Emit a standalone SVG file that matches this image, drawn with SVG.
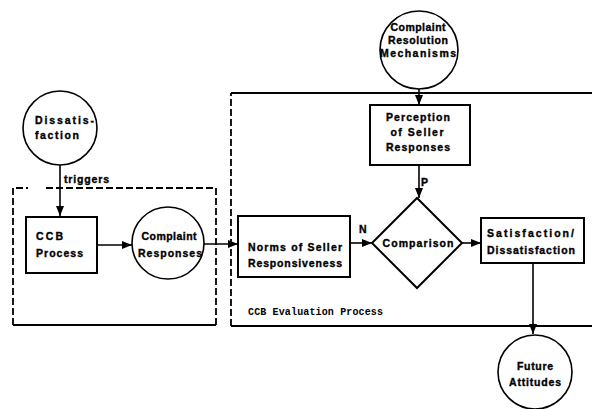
<svg xmlns="http://www.w3.org/2000/svg" width="592" height="409" viewBox="0 0 592 409">
<style>
.n{fill:#fff;stroke:#000;stroke-width:2}
.c{fill:#fff;stroke:#000;stroke-width:1.6}
.t{font-family:"Liberation Sans",Arial,sans-serif;font-weight:bold;font-size:10.5px;fill:#000;stroke:#000;stroke-width:0.35}
.m{font-family:"Liberation Mono","Courier New",monospace;font-weight:bold;font-size:10px;fill:#000}
.e{stroke:#000;stroke-width:1.6;fill:none}
.d{stroke:#000;stroke-width:1.8;fill:none;stroke-dasharray:7 3}
.s{stroke:#000;stroke-width:2;fill:none}
</style>
<defs>
<marker id="a" viewBox="0 0 10 8" refX="10" refY="4" markerWidth="10" markerHeight="8" markerUnits="userSpaceOnUse" orient="auto">
<path d="M0,0L10,4L0,8z" fill="#000"/>
</marker>
</defs>
<rect width="592" height="409" fill="#fff"/>
<g id="frames">
<path class="d" d="M13,325V188H28"/>
<path class="d" d="M46,188H216V325"/>
<path class="s" d="M13,325H216"/>
<path class="d" d="M231,326V93"/>
<path class="s" d="M231,93H592"/>
<path class="s" d="M231,326H592"/>
<text class="m" x="248" y="315" textLength="135" lengthAdjust="spacing">CCB Evaluation Process</text>
</g>
<g id="connectors">
<path class="e" d="M60,165V216" marker-end="url(#a)"/>
<text class="t" x="64" y="183" textLength="45" lengthAdjust="spacing">triggers</text>
<path class="e" d="M97,245H132" marker-end="url(#a)"/>
<path class="e" d="M204,244H238" marker-end="url(#a)"/>
<path class="e" d="M419,89V105" marker-end="url(#a)"/>
<path class="e" d="M419,165V198" marker-end="url(#a)"/>
<text class="t" x="421" y="186">P</text>
<path class="e" d="M350,243H372" marker-end="url(#a)"/>
<text class="t" x="359" y="233">N</text>
<path class="e" d="M462,243H481" marker-end="url(#a)"/>
<path class="e" d="M533,263V334" marker-end="url(#a)"/>
</g>
<g id="dissatisfaction">
<circle class="c" cx="60" cy="128" r="37"/>
<text class="t" x="35" y="124" textLength="59" lengthAdjust="spacing">Dissatis-</text>
<text class="t" x="35" y="139" textLength="44" lengthAdjust="spacing">faction</text>
</g>
<g id="ccb-process">
<rect class="n" x="26" y="217" width="71" height="56"/>
<text class="t" x="36" y="240" textLength="27" lengthAdjust="spacing">CCB</text>
<text class="t" x="36" y="257" textLength="47" lengthAdjust="spacing">Process</text>
</g>
<g id="complaint-responses">
<circle class="c" cx="168" cy="243" r="36"/>
<text class="t" x="169" y="240" text-anchor="middle" textLength="55" lengthAdjust="spacing">Complaint</text>
<text class="t" x="170" y="257" text-anchor="middle" textLength="64" lengthAdjust="spacing">Responses</text>
</g>
<g id="complaint-resolution">
<circle class="c" cx="419" cy="50" r="39"/>
<text class="t" x="418" y="31" text-anchor="middle" textLength="55" lengthAdjust="spacing">Complaint</text>
<text class="t" x="418" y="44" text-anchor="middle" textLength="60" lengthAdjust="spacing">Resolution</text>
<text class="t" x="418" y="57" text-anchor="middle" textLength="76" lengthAdjust="spacing">Mechanisms</text>
</g>
<g id="perception">
<rect class="n" x="370" y="105" width="100" height="60"/>
<text class="t" x="418" y="121" text-anchor="middle" textLength="64" lengthAdjust="spacing">Perception</text>
<text class="t" x="417" y="136" text-anchor="middle" textLength="53" lengthAdjust="spacing">of Seller</text>
<text class="t" x="418" y="151" text-anchor="middle" textLength="64" lengthAdjust="spacing">Responses</text>
</g>
<g id="norms">
<rect class="n" x="238" y="216" width="112" height="61"/>
<text class="t" x="248" y="251" textLength="94" lengthAdjust="spacing">Norms of Seller</text>
<text class="t" x="248" y="267" textLength="94" lengthAdjust="spacing">Responsiveness</text>
</g>
<g id="comparison">
<path class="n" d="M417,198L462,243L417,288L372,243z"/>
<text class="t" x="418" y="247" text-anchor="middle" textLength="71" lengthAdjust="spacing">Comparison</text>
</g>
<g id="satisfaction">
<rect class="n" x="481" y="218" width="103" height="45"/>
<text class="t" x="487" y="237" textLength="87" lengthAdjust="spacing">Satisfaction/</text>
<text class="t" x="487" y="254" textLength="88" lengthAdjust="spacing">Dissatisfaction</text>
</g>
<g id="future-attitudes">
<circle class="c" cx="535" cy="372" r="37"/>
<text class="t" x="535" y="370" text-anchor="middle" textLength="36" lengthAdjust="spacing">Future</text>
<text class="t" x="535" y="386" text-anchor="middle" textLength="52" lengthAdjust="spacing">Attitudes</text>
</g>
</svg>
